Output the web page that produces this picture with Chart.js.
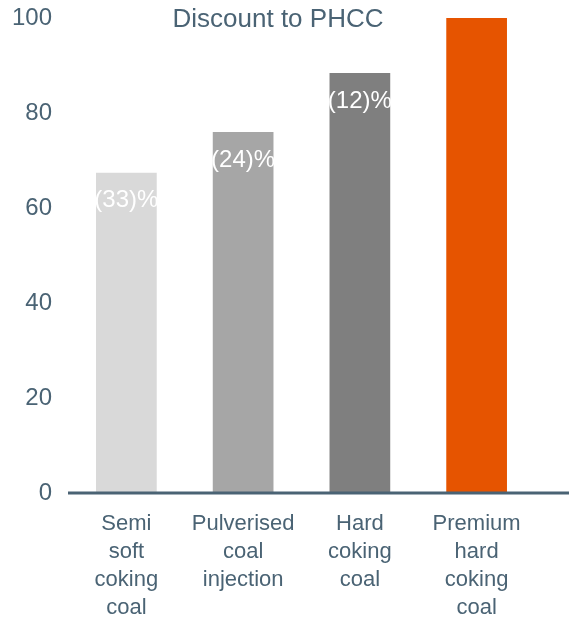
<!DOCTYPE html>
<html>
<head>
<meta charset="utf-8">
<script src="https://cdn.jsdelivr.net/npm/chart.js@4"></script>
<style>
    html, body { margin: 0; padding: 0; background: #fff; }
    #wrap { width: 569px; height: 617px; }
</style>
</head>
<body>
<div id="wrap"><canvas id="coalChart"></canvas></div>
<script>
// data
const categories = [
    ['Semi', 'soft', 'coking', 'coal'],
    ['Pulverised', 'coal', 'injection'],
    ['Hard', 'coking', 'coal'],
    ['Premium', 'hard', 'coking', 'coal']
];
const priceIndex = [67.4, 76, 88.4, 100];
const discountLabels = ['(33)%', '(24)%', '(12)%', ''];
const barColors = ['#D9D9D9', '#A6A6A6', '#7F7F7F', '#E65400'];
const yTicks = [0, 20, 40, 60, 80, 100];

const slate = '#4A6374';
const fontFamily = '"Liberation Sans", Arial, sans-serif';

// title + in-bar labels + long base line
const extras = {
    id: 'extras',
    afterDatasetsDraw: chart => {
        const ctx = chart.ctx;
        const meta = chart.getDatasetMeta(0);
        ctx.save();
        ctx.font = '24px ' + fontFamily;
        ctx.fillStyle = '#FFFFFF';
        ctx.textAlign = 'center';
        ctx.textBaseline = 'middle';
        meta.data.forEach((bar, i) => {
            if (discountLabels[i]) ctx.fillText(discountLabels[i], bar.x, bar.y + 28);
        });

        // axis line runs to the right edge
        const y0 = chart.scales.y.getPixelForValue(0);
        ctx.strokeStyle = slate;
        ctx.lineWidth = 3;
        ctx.beginPath();
        ctx.moveTo(chart.chartArea.left, y0);
        ctx.lineTo(chart.width, y0);
        ctx.stroke();

        ctx.font = '26px ' + fontFamily;
        ctx.fillStyle = slate;
        ctx.fillText('Discount to PHCC', 278, 20);
        ctx.restore();
    }
};

window.addEventListener('DOMContentLoaded', () => {
    const ctx = document.getElementById('coalChart').getContext('2d');

    new Chart(ctx, {
        type: 'bar',
        data: {
            labels: categories,
            datasets: [{
                data: priceIndex,
                backgroundColor: barColors,
                categoryPercentage: 1,
                barPercentage: 0.52
            }]
        },
        options: {
            responsive: true,
            maintainAspectRatio: false,
            animation: false,
            layout: { padding: { top: 18, right: 34, bottom: 0, left: 0 } },
            plugins: {
                legend: { display: false },
                tooltip: { enabled: false }
            },
            scales: {
                x: {
                    grid: { display: false, drawTicks: false },
                    border: { display: false },
                    ticks: {
                        color: slate,
                        font: { family: fontFamily, size: 22, lineHeight: 1.27 },
                        padding: 17,
                        maxRotation: 0,
                        autoSkip: false
                    },
                    afterFit: scale => { scale.height = 124; }
                },
                y: {
                    min: 0,
                    max: 100,
                    grid: { display: false, drawTicks: false },
                    border: { display: false },
                    afterBuildTicks: scale => { scale.ticks = yTicks.map(v => ({ value: v })); },
                    ticks: {
                        color: slate,
                        font: { family: fontFamily, size: 24 },
                        padding: 16
                    },
                    afterFit: scale => {
                        scale.width = 68;
                        scale.paddingTop = 0;
                        scale.paddingBottom = 0;
                    }
                }
            }
        },
        plugins: [extras]
    });
});
</script>
</body>
</html>
